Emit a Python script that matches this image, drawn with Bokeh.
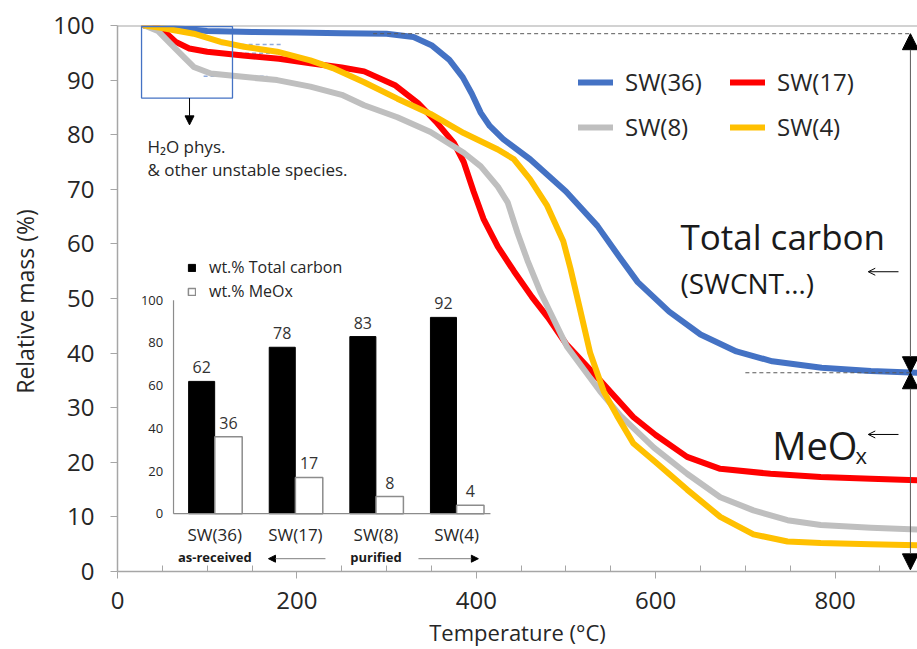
from bokeh.plotting import figure
from bokeh.models import (Range1d, Span, Arrow, NormalHead, OpenHead, Legend, LegendItem,
                          ColumnDataSource, FixedTicker, Label, BoxAnnotation)
from bokeh.transform import dodge
from bokeh.core.properties import value
from bokeh.embed import file_html
from bokeh.resources import INLINE

FONT = "Open Sans"

# ---------------- main TGA curves ----------------
temp_sw36 = [30, 60, 100, 150, 200, 250, 300, 330, 350, 370, 385, 395, 405, 415, 430, 460,
             500, 535, 560, 580, 615, 650, 690, 730, 785, 840, 892]
mass_sw36 = [100, 99.6, 99.0, 98.8, 98.7, 98.6, 98.5, 97.9, 96.4, 93.7, 90.5, 87.5, 84.0, 81.6,
             79.2, 75.5, 69.6, 63.3, 57.5, 53.0, 47.6, 43.4, 40.3, 38.5, 37.3, 36.7, 36.4]

temp_sw17 = [30, 45, 55, 65, 80, 100, 140, 180, 215, 250, 275, 310, 335, 355, 375, 386, 397,
             408, 424, 442, 462, 480, 500, 538, 575, 600, 635, 672, 728, 784, 840, 892]
mass_sw17 = [100, 99.6, 98.5, 97.0, 95.8, 95.2, 94.5, 93.9, 93.1, 92.3, 91.6, 89.0, 85.8, 82.4,
             78.5, 75.0, 69.6, 64.6, 59.5, 55.0, 50.3, 46.5, 41.7, 35.0, 28.3, 25.0, 21.0, 18.8,
             17.9, 17.3, 17.0, 16.7]

temp_sw8 = [30, 45, 59, 74, 85, 104, 140, 178, 215, 250, 275, 312, 349, 386, 405, 424, 435,
            446, 457, 472, 501, 538, 561, 598, 635, 672, 709, 747, 784, 840, 892]
mass_sw8 = [100, 99.0, 96.7, 94.2, 92.4, 91.2, 90.6, 90.0, 88.8, 87.3, 85.4, 83.2, 80.5, 76.7,
            74.2, 70.5, 67.6, 62.0, 57.0, 51.0, 41.2, 33.0, 28.5, 22.7, 17.9, 13.6, 11.2, 9.4,
            8.5, 8.0, 7.7]

temp_sw4 = [30, 48, 85, 115, 141, 178, 215, 240, 275, 312, 349, 386, 424, 442, 460, 479, 497,
            505, 515, 527, 542, 557, 575, 600, 635, 672, 709, 747, 784, 840, 892]
mass_sw4 = [100, 99.6, 98.5, 97.0, 96.1, 95.2, 93.6, 92.2, 89.6, 86.6, 83.8, 80.3, 77.3, 75.5,
            71.8, 67.0, 60.5, 55.5, 48.5, 40.0, 33.0, 28.5, 23.5, 20.0, 15.0, 10.0, 6.8, 5.5,
            5.2, 5.0, 4.8]

series_labels = ["SW(36)", "SW(17)", "SW(8)", "SW(4)"]
series_colors = ["#4472C4", "#FF0000", "#BFBFBF", "#FFC000"]

x_ticks = [0, 200, 400, 600, 800]
x_minor = [50, 100, 150, 250, 300, 350, 450, 500, 550, 650, 700, 750, 850]
y_ticks = [0, 10, 20, 30, 40, 50, 60, 70, 80, 90, 100]

# ---------------- inset bar chart ----------------
inset_samples = ["SW(36)", "SW(17)", "SW(8)", "SW(4)"]
inset_notes = ["as-received", "", "purified", ""]
carbon_wt = [62, 78, 83, 92]
meox_wt = [36, 17, 8, 4]
inset_ticks = [0, 20, 40, 60, 80, 100]

p = figure(width=917, height=649, x_range=Range1d(0, 891.9), y_range=Range1d(0, 100),
           output_backend="svg", toolbar_location=None,
           min_border_left=117, min_border_right=0, min_border_top=25, min_border_bottom=74)
p.xgrid.visible = False
p.ygrid.visible = False
p.outline_line_color = None
p.extra_x_ranges = {"inset": Range1d(-1.207, 8.718)}
p.extra_y_ranges = {"inset": Range1d(-27.1, 228.8)}

axis_gray = "#a6a6a6"
p.xaxis.ticker = FixedTicker(ticks=x_ticks, minor_ticks=x_minor)
p.yaxis.ticker = FixedTicker(ticks=y_ticks)
for ax in (p.xaxis, p.yaxis):
    ax.axis_line_color = axis_gray
    ax.axis_line_width = 1.5
    ax.major_tick_line_color = axis_gray
    ax.minor_tick_line_color = axis_gray
    ax.major_tick_in = 0
    ax.major_tick_out = 7
    ax.major_label_text_font = FONT
    ax.major_label_text_font_size = "24px"
    ax.major_label_text_color = "#262626"
    ax.axis_label_text_font = FONT
    ax.axis_label_text_font_style = "normal"
    ax.axis_label_text_color = "#262626"
p.xaxis.axis_label_text_font_size = "22px"
p.yaxis.axis_label_text_font_size = "23px"
p.xaxis.minor_tick_in = 6
p.xaxis.minor_tick_out = 0
p.yaxis.minor_tick_line_color = None
p.xaxis.axis_label = "Temperature (°C)"
p.yaxis.axis_label = "Relative mass  (%)"
p.xaxis.major_label_standoff = 13
p.xaxis.axis_label_standoff = 5
p.yaxis.major_label_standoff = 16
p.yaxis.axis_label_standoff = 9

p.add_layout(Span(location=y_ticks[-1], dimension="width", line_color=axis_gray, line_width=2))

# --- H2O box and guides ---
p.add_layout(BoxAnnotation(left=26.8, right=128.2, bottom=86.7, top=99.8,
                           fill_alpha=0, line_color="#4472C4", line_width=1.3, line_alpha=1))
guide_blue = "#8FAADC"
p.segment(x0=[115, 111, 96], y0=[96.5, 94.9, 90.7], x1=[185, 178, 167], y1=[96.5, 94.9, 90.7],
          line_color=guide_blue, line_width=1.5, line_dash="4 3")
p.add_layout(Arrow(end=NormalHead(size=9, fill_color="black", line_color="black"),
                   x_start=80.3, y_start=86.7, x_end=80.3, y_end=81.8,
                   line_color="black", line_width=1))
p.add_layout(Label(x=33.4, y=77.9, text="H₂O phys.", text_font=FONT, text_font_size="17px",
                   text_baseline="alphabetic", text_color="#262626"))
p.add_layout(Label(x=33.4, y=73.6, text="& other unstable species.", text_font=FONT,
                   text_font_size="17px", text_baseline="alphabetic", text_color="#262626"))

# --- curves ---
renderers = []
for t, m, c in zip([temp_sw36, temp_sw17, temp_sw8, temp_sw4],
                   [mass_sw36, mass_sw17, mass_sw8, mass_sw4], series_colors):
    renderers.append(p.line(t, m, line_width=6, line_color=c, line_join="round", line_cap="round"))

# --- dashed reference lines and vertical arrows ---
plateau = mass_sw36[6]
residue = mass_sw36[-1]
p.segment(x0=[285, 700], y0=[plateau, residue], x1=[884, 884], y1=[plateau, residue],
          line_color="#595959", line_width=1, line_dash="4 3")
p.add_layout(Arrow(start=NormalHead(size=16, fill_color="black", line_color="black"),
                   end=NormalHead(size=16, fill_color="black", line_color="black"),
                   x_start=884, y_start=plateau, x_end=884, y_end=residue,
                   line_color="#595959", line_width=1))
p.add_layout(Arrow(start=NormalHead(size=16, fill_color="black", line_color="black"),
                   end=NormalHead(size=16, fill_color="black", line_color="black"),
                   x_start=884, y_start=residue, x_end=884, y_end=0.3,
                   line_color="#595959", line_width=1))
for yy in (54.9, 25.1):
    p.add_layout(Arrow(end=OpenHead(size=7, line_color="black", line_width=1),
                       x_start=870.7, y_start=yy, x_end=837, y_end=yy,
                       line_color="black", line_width=1))

p.add_layout(Label(x=627.6, y=61.3, text="Total carbon", text_font=FONT, text_font_size="35px",
                   text_baseline="alphabetic", text_color="#1a1a1a"))
p.add_layout(Label(x=627.6, y=52.9, text="(SWCNT…)", text_font=FONT, text_font_size="28px",
                   text_baseline="alphabetic", text_color="#1a1a1a"))
p.add_layout(Label(x=730, y=23.1, text="MeO", text_font=FONT, text_font_size="38px",
                   text_baseline="alphabetic", text_color="#1a1a1a"))
p.add_layout(Label(x=822.7, y=21.3, text="x", text_font=FONT, text_font_size="22px",
                   text_baseline="alphabetic", text_color="#1a1a1a"))

legend = Legend(items=[LegendItem(label=l, renderers=[r]) for l, r in zip(series_labels, renderers)],
                location=(461, 428), orientation="horizontal", ncols=2,
                glyph_width=35, glyph_height=24, label_width=93, label_height=24,
                label_standoff=12, spacing=12, padding=0, margin=0,
                label_text_font=FONT, label_text_font_size="24px", label_text_color="#262626",
                border_line_color=None, background_fill_alpha=0)
p.add_layout(legend)

# ---------------- inset ----------------
src = ColumnDataSource(dict(idx=list(range(len(inset_samples))), sample=inset_samples,
                            note=inset_notes, carbon=carbon_wt, meox=meox_wt,
                            carbon_txt=[str(v) for v in carbon_wt],
                            meox_txt=[str(v) for v in meox_wt]))
kw = dict(x_range_name="inset", y_range_name="inset", source=src)
black = p.vbar(x=dodge("idx", -0.163), top="carbon", width=0.323, fill_color="black",
               line_color="black", **kw)
white = p.vbar(x=dodge("idx", 0.17), top="meox", width=0.34, fill_color="white",
               line_color="#8c8c8c", line_width=1.5, **kw)
p.text(x=dodge("idx", -0.163), y="carbon", text="carbon_txt", y_offset=-8, text_align="center",
       text_baseline="bottom", text_font=value(FONT), text_font_size="16px", text_color="#333333", **kw)
p.text(x=dodge("idx", 0.17), y="meox", text="meox_txt", y_offset=-8, text_align="center",
       text_baseline="bottom", text_font=value(FONT), text_font_size="16px", text_color="#333333", **kw)
p.text(x="idx", y=0, text="sample", y_offset=21, text_align="center", text_baseline="middle",
       text_font=value(FONT), text_font_size="17px", text_color="#262626", **kw)
p.text(x="idx", y=0, text="note", y_offset=43, text_align="center", text_baseline="middle",
       text_font=value(FONT), text_font_size="13px", text_font_style="bold",
       text_color="#1a1a1a", **kw)
# inset axes
ikw = dict(x_range_name="inset", y_range_name="inset")
p.segment(x0=[-0.512, -0.512], y0=[inset_ticks[0], inset_ticks[0]],
          x1=[-0.512, 3.42], y1=[inset_ticks[-1], inset_ticks[0]],
          line_color="#8c8c8c", line_width=1.2, **ikw)
p.text(x=[-0.64] * len(inset_ticks), y=inset_ticks, text=[str(t) for t in inset_ticks],
       text_align="right", text_baseline="middle", text_font=value(FONT),
       text_font_size="13px", text_color="#262626", **ikw)
p.add_layout(Arrow(end=NormalHead(size=7, fill_color="black", line_color="black"),
                   x_start=1.373, y_start=-21.1, x_end=0.666, y_end=-21.1,
                   line_color="#7f7f7f", line_width=1, **ikw))
p.add_layout(Arrow(end=NormalHead(size=7, fill_color="black", line_color="black"),
                   x_start=2.527, y_start=-21.1, x_end=3.27, y_end=-21.1,
                   line_color="#7f7f7f", line_width=1, **ikw))

legend2 = Legend(items=[LegendItem(label="wt.% Total carbon", renderers=[black]),
                        LegendItem(label="wt.% MeOx", renderers=[white])],
                 location=(70, 269), glyph_width=9, glyph_height=9, label_height=20,
                 label_standoff=13, spacing=2, padding=0, margin=0,
                 label_text_font=FONT, label_text_font_size="16px", label_text_color="#262626",
                 border_line_color=None, background_fill_alpha=0)
p.add_layout(legend2)

open("out.html", "w").write(file_html(p, INLINE))
